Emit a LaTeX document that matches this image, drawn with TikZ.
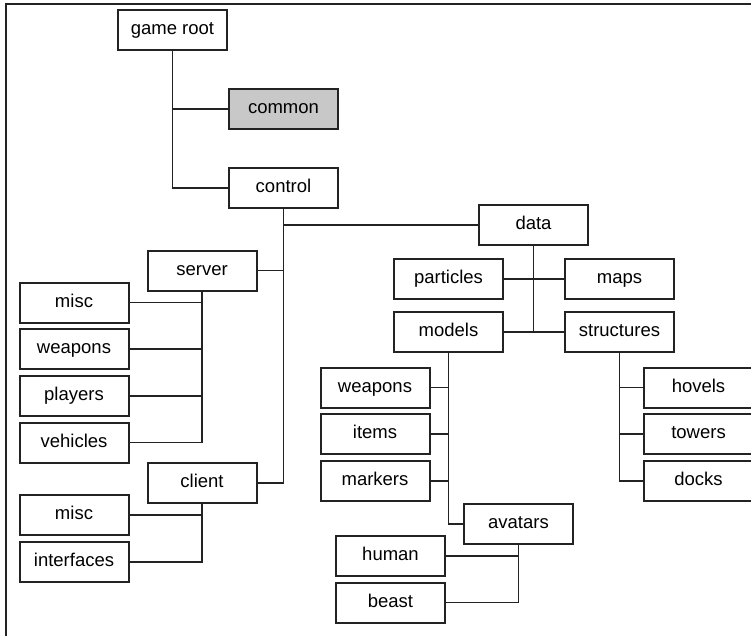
\documentclass[tikz,border=0pt]{standalone}
\usepackage{fontspec}
\setmainfont{Liberation Sans}
\definecolor{boxgray}{RGB}{200,200,200}
\definecolor{inkline}{RGB}{35,35,35}
\begin{document}
\begin{tikzpicture}[x=1pt,y=-1pt,
  dirbox/.style={draw=inkline, rectangle, line width=2pt, minimum width=109pt, minimum height=40pt, inner sep=0pt, text height=13.3pt, text depth=3.7pt, font=\fontsize{18.5}{22}\selectfont},
  link/.style={draw=inkline, line width=1.8pt}]
\useasboundingbox (0,0) rectangle (751,636);
\draw[inkline, line width=1.8pt] (6,636) -- (6,4) -- (751,4);

\node[dirbox] (root) at (172.5,30) {game root};
\node[dirbox, fill=boxgray] (common) at (283.5,109) {common};
\node[dirbox] (control) at (283.5,188) {control};
\node[dirbox] (data) at (533.5,225) {data};
\node[dirbox] (server) at (202,270.5) {server};
\node[dirbox] (smisc) at (74,302.5) {misc};
\node[dirbox] (sweapons) at (74,349) {weapons};
\node[dirbox] (players) at (74,396) {players};
\node[dirbox] (vehicles) at (74,442.5) {vehicles};
\node[dirbox] (client) at (202,483) {client};
\node[dirbox] (cmisc) at (74,515) {misc};
\node[dirbox] (interfaces) at (74,562) {interfaces};
\node[dirbox] (particles) at (448.5,279) {particles};
\node[dirbox] (maps) at (619.5,279) {maps};
\node[dirbox] (models) at (448.5,332) {models};
\node[dirbox] (structures) at (619.5,332) {structures};
\node[dirbox] (mweapons) at (375,387.5) {weapons};
\node[dirbox] (items) at (375,434) {items};
\node[dirbox] (markers) at (375,481) {markers};
\node[dirbox] (avatars) at (518.5,524) {avatars};
\node[dirbox] (human) at (390.5,556) {human};
\node[dirbox] (beast) at (390.5,602.5) {beast};
\node[dirbox] (hovels) at (698.5,387.5) {hovels};
\node[dirbox] (towers) at (698.5,434) {towers};
\node[dirbox] (docks) at (698.5,481) {docks};

\draw[link] (root) |- (common);
\draw[link] (root) |- (control);
\draw[link] (control) |- (data);
\draw[link] (control) |- (server);
\draw[link] (control) |- (client);
\draw[link] (server) |- (smisc);
\draw[link] (server) |- (sweapons);
\draw[link] (server) |- (players);
\draw[link] (server) |- (vehicles);
\draw[link] (client) |- (cmisc);
\draw[link] (client) |- (interfaces);
\draw[link] (data) |- (particles);
\draw[link] (data) |- (maps);
\draw[link] (data) |- (models);
\draw[link] (data) |- (structures);
\draw[link] (models) |- (mweapons);
\draw[link] (models) |- (items);
\draw[link] (models) |- (markers);
\draw[link] (models) |- (avatars);
\draw[link] (avatars) |- (human);
\draw[link] (avatars) |- (beast);
\draw[link] (structures) |- (hovels);
\draw[link] (structures) |- (towers);
\draw[link] (structures) |- (docks);
\end{tikzpicture}
\end{document}
